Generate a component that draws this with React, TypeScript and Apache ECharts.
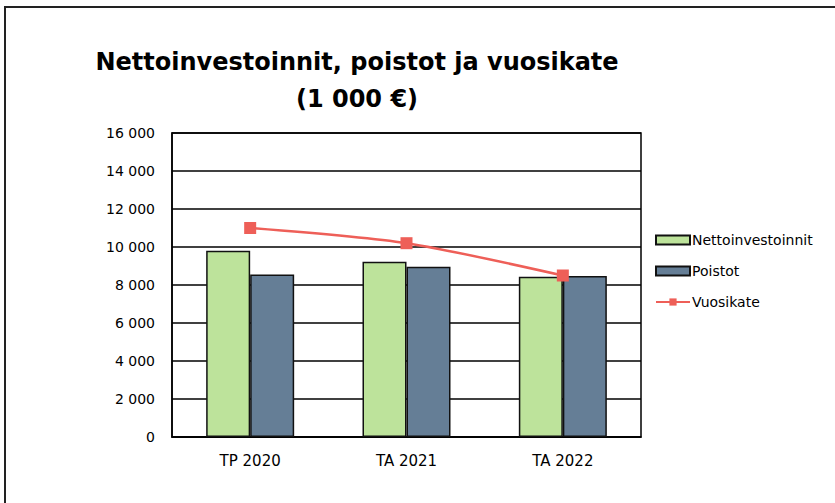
import React, { useEffect, useRef } from "react";
import * as echarts from "echarts";

const categories = ["TP 2020", "TA 2021", "TA 2022"];
const nettoinvestoinnit = [9800, 9230, 8440];
const poistot = [8550, 8960, 8470];
const vuosikate = [11000, 10200, 8500];
const seriesNames = ["Nettoinvestoinnit", "Poistot", "Vuosikate"];
const titleLines = ["Nettoinvestoinnit, poistot ja vuosikate", "(1 000 €)"];

const fmt = (v: number) => {
  const s = String(Math.round(v));
  return s.replace(/\B(?=(\d{3})+(?!\d))/g, " ");
};

export default function App() {
  const ref = useRef<HTMLDivElement>(null);
  useEffect(() => {
    if (!ref.current) return;
    const chart = echarts.init(ref.current, null, { renderer: "svg" });
    const font = "'DejaVu Sans', Tahoma, sans-serif";
    chart.setOption({
      animation: false,
      backgroundColor: "#ffffff",
      title: {
        text: titleLines.join("\n"),
        left: 352,
        top: 38,
        textAlign: "center",
        textStyle: {
          fontFamily: font,
          fontWeight: "bold",
          fontSize: 24,
          color: "#000",
          lineHeight: 37,
        },
      },
      graphic: [
        {
          type: "rect",
          shape: { x: 5, y: 7, width: 900, height: 600 },
          style: { fill: "none", stroke: "#222", lineWidth: 2 },
          silent: true,
        },
      ],
      legend: {
        orient: "vertical",
        left: 650,
        top: 228,
        itemGap: 17,
        itemWidth: 34,
        itemHeight: 9,
        textStyle: { fontFamily: font, fontSize: 14, color: "#000", padding: [0, 0, 0, -3] },
        data: [
          { name: seriesNames[0], icon: "rect" },
          { name: seriesNames[1], icon: "rect" },
          { name: seriesNames[2] },
        ],
      },
      grid: {
        left: 172,
        top: 133,
        width: 469,
        height: 304,
        show: true,
        borderColor: "#000",
        borderWidth: 1.5,
        backgroundColor: "transparent",
      },
      xAxis: {
        type: "category",
        data: categories,
        axisLine: { lineStyle: { color: "#000", width: 1.5 } },
        axisTick: { show: false },
        axisLabel: { fontFamily: font, fontSize: 15, color: "#000", margin: 16 },
      },
      yAxis: {
        type: "value",
        min: 0,
        max: 16000,
        interval: 2000,
        axisLine: { show: true, lineStyle: { color: "#000", width: 1.5 } },
        axisTick: { show: false },
        splitLine: { lineStyle: { color: "#000", width: 1.5 } },
        axisLabel: {
          fontFamily: font,
          fontSize: 14,
          color: "#000",
          margin: 17,
          formatter: (v: number) => fmt(v),
        },
      },
      series: [
        {
          name: seriesNames[0],
          type: "bar",
          data: nettoinvestoinnit,
          barWidth: 44,
          barGap: "0%",
          itemStyle: { color: "#BDE39B", borderColor: "#111", borderWidth: 1.5 },
        },
        {
          name: seriesNames[1],
          type: "bar",
          data: poistot,
          barWidth: 44,
          barGap: "0%",
          itemStyle: { color: "#657E96", borderColor: "#111", borderWidth: 1.5 },
        },
        {
          name: seriesNames[2],
          type: "line",
          data: vuosikate,
          smooth: 0.25,
          symbol: "rect",
          symbolSize: 12,
          lineStyle: { color: "#EE5F58", width: 2.5 },
          itemStyle: { color: "#EE5F58" },
        },
      ],
    });
    return () => chart.dispose();
  }, []);
  return (
    <div
      ref={ref}
      style={{ position: "fixed", left: 0, top: 0, width: 835, height: 503 }}
    />
  );
}
